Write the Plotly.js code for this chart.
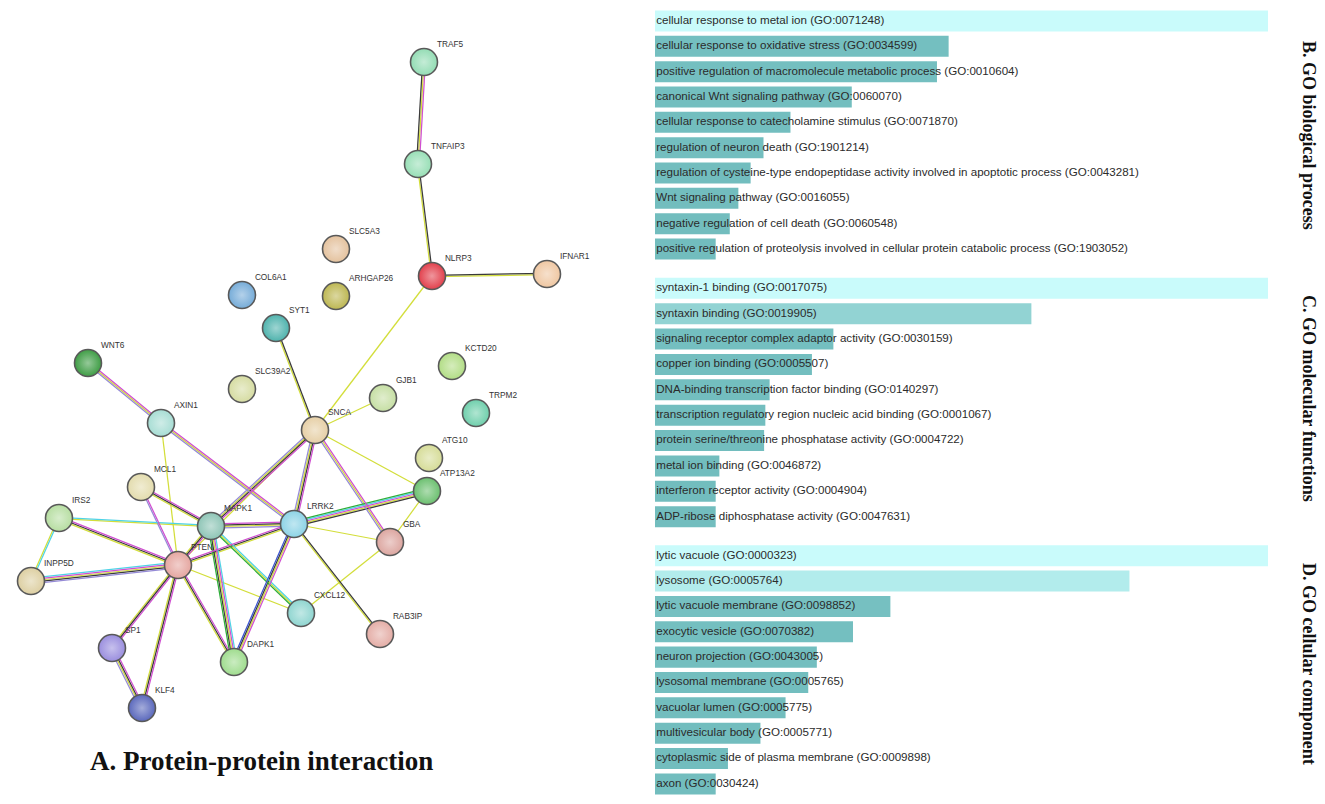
<!DOCTYPE html>
<html>
<head>
<meta charset="utf-8">
<script src="https://cdn.plot.ly/plotly-3.0.1.min.js"></script>
<style>
  html, body { margin: 0; padding: 0; background: #ffffff; }
  #chart { width: 1325px; height: 804px; }
</style>
</head>
<body>
<div id="chart"></div>
<script>
// ---------------- DATA ----------------
// Protein-protein interaction network (STRING layout, node positions in layout units)
const nodeNames = ["TRAF5","TNFAIP3","SLC5A3","NLRP3","IFNAR1","COL6A1","ARHGAP26","SYT1","WNT6","KCTD20",
  "SLC39A2","GJB1","TRPM2","AXIN1","SNCA","ATG10","MCL1","ATP13A2","IRS2","MAPK1",
  "LRRK2","GBA","PTEN","INPP5D","CXCL12","RAB3IP","SP1","DAPK1","KLF4"];
const nodeX = [424,418,336,432,547,242,336,276,88,452,
  242,383,476,161,315,429,141,427,59,211,
  294,390,178,31,301,380,112,234,142];
const nodeY = [62,164,249,276,274,295,296,328,363,366,
  389,398,413,423,430,458,487,491,518,526,
  524,542,565,581,613,634,648,662,708];
const nodeColors = ["#93dcb4","#98dfb6","#e4c29e","#e2404c","#efc7a2","#76acd8","#bdb752","#4fb3ad","#3f9d45","#b2dd86",
  "#d6dca2","#c6dfa4","#6fcfac","#a7ddd4","#e6cfa6","#d6dc98","#e3dcae","#6cc070","#b7dea2","#8ec5b6",
  "#8dd3e6","#dca6a0","#e5a6a0","#ddcfa2","#8fd5d0","#e4ada6","#9a8ede","#9fdc8e","#5a68bc"];

// Interactions: from, to, evidence channels
// c = curated databases, m = experiments, y = text mining, k = co-expression,
// p = protein homology, g = gene neighborhood, b = gene co-occurrence
const edgeFrom = ["TRAF5","TNFAIP3","NLRP3","NLRP3","SYT1","WNT6","AXIN1","AXIN1","SNCA","SNCA",
  "SNCA","SNCA","SNCA","SNCA","MCL1","MCL1","IRS2","IRS2","IRS2","INPP5D",
  "MAPK1","MAPK1","MAPK1","MAPK1","PTEN","PTEN","PTEN","PTEN","PTEN","SP1",
  "LRRK2","LRRK2","LRRK2","LRRK2","GBA","GBA"];
const edgeTo = ["TNFAIP3","NLRP3","IFNAR1","SNCA","SNCA","AXIN1","LRRK2","PTEN","GJB1","ATP13A2",
  "MAPK1","PTEN","LRRK2","GBA","MAPK1","PTEN","MAPK1","PTEN","INPP5D","PTEN",
  "LRRK2","PTEN","DAPK1","CXCL12","LRRK2","CXCL12","SP1","KLF4","DAPK1","KLF4",
  "ATP13A2","GBA","RAB3IP","DAPK1","ATP13A2","CXCL12"];
const edgeEvidence = ["myk","ky","ky","y","ky","myp","myp","y","y","y",
  "mkyp","y","mkyp","myp","mky","mp","cy","mky","cy","cmykp",
  "mkyp","mky","cmykg","cyg","mky","y","mky","mky","mky","mkyp",
  "gcmyk","y","ky","mykb","y","y"];

// GO enrichment (relative combined score, top term = 100)
const bpTerms = [
  "cellular response to metal ion (GO:0071248)",
  "cellular response to oxidative stress (GO:0034599)",
  "positive regulation of macromolecule metabolic process (GO:0010604)",
  "canonical Wnt signaling pathway (GO:0060070)",
  "cellular response to catecholamine stimulus (GO:0071870)",
  "regulation of neuron death (GO:1901214)",
  "regulation of cysteine-type endopeptidase activity involved in apoptotic process (GO:0043281)",
  "Wnt signaling pathway (GO:0016055)",
  "negative regulation of cell death (GO:0060548)",
  "positive regulation of proteolysis involved in cellular protein catabolic process (GO:1903052)"];
const bpValues = [100, 47.9, 46.0, 32.1, 22.1, 17.7, 15.6, 13.6, 12.2, 9.9];

const mfTerms = [
  "syntaxin-1 binding (GO:0017075)",
  "syntaxin binding (GO:0019905)",
  "signaling receptor complex adaptor activity (GO:0030159)",
  "copper ion binding (GO:0005507)",
  "DNA-binding transcription factor binding (GO:0140297)",
  "transcription regulatory region nucleic acid binding (GO:0001067)",
  "protein serine/threonine phosphatase activity (GO:0004722)",
  "metal ion binding (GO:0046872)",
  "interferon receptor activity (GO:0004904)",
  "ADP-ribose diphosphatase activity (GO:0047631)"];
const mfValues = [100, 61.4, 29.1, 25.6, 18.7, 18.0, 17.8, 10.5, 9.9, 9.9];

const ccTerms = [
  "lytic vacuole (GO:0000323)",
  "lysosome (GO:0005764)",
  "lytic vacuole membrane (GO:0098852)",
  "exocytic vesicle (GO:0070382)",
  "neuron projection (GO:0043005)",
  "lysosomal membrane (GO:0005765)",
  "vacuolar lumen (GO:0005775)",
  "multivesicular body (GO:0005771)",
  "cytoplasmic side of plasma membrane (GO:0009898)",
  "axon (GO:0030424)"];
const ccValues = [100, 77.4, 38.4, 32.3, 26.4, 25.0, 21.3, 17.2, 11.9, 9.9];

// ---------------- STYLE ----------------
const evidenceColor = {c:"#4fd3e6", m:"#cf4fd0", y:"#d3de3a", k:"#3a3a3a", p:"#958ad6", g:"#2fae3a", b:"#3a52cf"};
const barColorsBP = ["#c9fbfb","#74bfc0","#74bfc0","#73bebf","#73bebf","#73bebf","#72bdbe","#72bdbe","#72bdbe","#72bdbe"];
const barColorsMF = ["#c9fbfb","#92d3d3","#74bfc0","#73bebf","#73bebf","#73bebf","#72bdbe","#72bdbe","#72bdbe","#72bdbe"];
const barColorsCC = ["#c9fbfb","#b2ecec","#76c0c1","#74bfc0","#73bebf","#73bebf","#72bdbe","#72bdbe","#72bdbe","#72bdbe"];

function lighten(hex, t) {
  const n = parseInt(hex.slice(1), 16);
  let r = (n >> 16) & 255, g = (n >> 8) & 255, b = n & 255;
  r = Math.round(r + (255 - r) * t); g = Math.round(g + (255 - g) * t); b = Math.round(b + (255 - b) * t);
  return "rgb(" + r + "," + g + "," + b + ")";
}

// ---------------- NETWORK TRACES ----------------
const idx = {};
nodeNames.forEach((n, i) => idx[n] = i);
const lineSegs = {};
Object.keys(evidenceColor).forEach(k => lineSegs[k] = {x: [], y: []});
const spacing = 1.4;
edgeFrom.forEach((f, e) => {
  const a = idx[f], b = idx[edgeTo[e]];
  const x1 = nodeX[a], y1 = nodeY[a], x2 = nodeX[b], y2 = nodeY[b];
  const dx = x2 - x1, dy = y2 - y1, L = Math.hypot(dx, dy);
  const px = -dy / L, py = dx / L;
  const ev = edgeEvidence[e].split("");
  ev.forEach((c, i) => {
    const off = (i - (ev.length - 1) / 2) * spacing;
    const s = lineSegs[c];
    s.x.push(x1 + px * off, x2 + px * off, null);
    s.y.push(y1 + py * off, y2 + py * off, null);
  });
});

const traces = [];
["y","k","p","c","g","b","m"].forEach(c => {
  traces.push({
    type: "scatter", mode: "lines", xaxis: "x", yaxis: "y",
    x: lineSegs[c].x, y: lineSegs[c].y,
    line: {color: evidenceColor[c], width: 1.25},
    hoverinfo: "skip", showlegend: false
  });
});
traces.push({
  type: "scatter", mode: "markers", xaxis: "x", yaxis: "y",
  x: nodeX, y: nodeY, text: nodeNames,
  marker: {
    size: 27, color: nodeColors,
    gradient: {type: "radial", color: nodeColors.map(c => lighten(c, 0.45))},
    line: {color: "#595959", width: 1.6}
  },
  cliponaxis: false, hoverinfo: "text", showlegend: false
});
// node labels (placed just up-right of each node)
traces.push({
  type: "scatter", mode: "markers+text", xaxis: "x", yaxis: "y",
  x: nodeX, y: nodeY, text: nodeNames, textposition: "top right",
  textfont: {family: "Liberation Sans, Arial, sans-serif", size: 8.3, color: "#333333"},
  marker: {size: 19, color: "rgba(0,0,0,0)", line: {width: 0}},
  cliponaxis: false, hoverinfo: "skip", showlegend: false
});

// ---------------- BAR TRACES ----------------
function barSet(terms, values, colors, xa, ya) {
  traces.push({
    type: "bar", orientation: "h", xaxis: xa, yaxis: ya,
    x: values, y: terms, marker: {color: colors, line: {width: 0}},
    hoverinfo: "x+y", showlegend: false
  });
  traces.push({
    type: "scatter", mode: "text", xaxis: xa, yaxis: ya,
    x: terms.map(() => 0.2), y: terms, text: terms, textposition: "middle right",
    textfont: {family: "Liberation Sans, Arial, sans-serif", size: 11.6, color: "#2b2b2b"},
    cliponaxis: false, hoverinfo: "skip", showlegend: false
  });
}
barSet(bpTerms, bpValues, barColorsBP, "x2", "y2");
barSet(mfTerms, mfValues, barColorsMF, "x3", "y3");
barSet(ccTerms, ccValues, barColorsCC, "x4", "y4");

// ---------------- LAYOUT ----------------
const hidden = {showgrid: false, zeroline: false, showticklabels: false, ticks: "", showline: false, fixedrange: true};
const barX = [655/1325, 1268/1325];
function catAxis(terms, dom) {
  return Object.assign({}, hidden, {domain: dom, type: "category", categoryorder: "array",
    categoryarray: terms, range: [9.5, -0.5]});
}
const layout = {
  width: 1325, height: 804,
  margin: {l: 0, r: 0, t: 0, b: 0},
  paper_bgcolor: "#ffffff", plot_bgcolor: "rgba(0,0,0,0)",
  bargap: 0.17,
  xaxis: Object.assign({}, hidden, {domain: [0, 1], range: [0, 1325]}),
  yaxis: Object.assign({}, hidden, {domain: [0, 1], range: [804, 0]}),
  xaxis2: Object.assign({}, hidden, {domain: barX, range: [0, 100], anchor: "y2"}),
  yaxis2: catAxis(bpTerms, [1 - 261.7/804, 1 - 8.3/804]),
  xaxis3: Object.assign({}, hidden, {domain: barX, range: [0, 100], anchor: "y3"}),
  yaxis3: catAxis(mfTerms, [1 - 529.4/804, 1 - 275.6/804]),
  xaxis4: Object.assign({}, hidden, {domain: barX, range: [0, 100], anchor: "y4"}),
  yaxis4: catAxis(ccTerms, [1 - 796.6/804, 1 - 543.0/804]),
  annotations: [
    {text: "<b>A. Protein-protein interaction</b>", xref: "paper", yref: "paper",
     x: 261/1325, y: 1 - 761/804, xanchor: "center", yanchor: "middle", showarrow: false,
     font: {family: "Liberation Serif, Times New Roman, serif", size: 27, color: "#111111"}},
    {text: "<b>B. GO biological process</b>", xref: "paper", yref: "paper",
     x: 1309/1325, y: 1 - 135/804, xanchor: "center", yanchor: "middle", showarrow: false, textangle: 90,
     font: {family: "Liberation Serif, Times New Roman, serif", size: 18, color: "#111111"}},
    {text: "<b>C. GO molecular functions</b>", xref: "paper", yref: "paper",
     x: 1309/1325, y: 1 - 398/804, xanchor: "center", yanchor: "middle", showarrow: false, textangle: 90,
     font: {family: "Liberation Serif, Times New Roman, serif", size: 18, color: "#111111"}},
    {text: "<b>D. GO cellular component</b>", xref: "paper", yref: "paper",
     x: 1309/1325, y: 1 - 664/804, xanchor: "center", yanchor: "middle", showarrow: false, textangle: 90,
     font: {family: "Liberation Serif, Times New Roman, serif", size: 18, color: "#111111"}}
  ]
};

Plotly.newPlot("chart", traces, layout, {displayModeBar: false, responsive: false});
</script>
</body>
</html>
